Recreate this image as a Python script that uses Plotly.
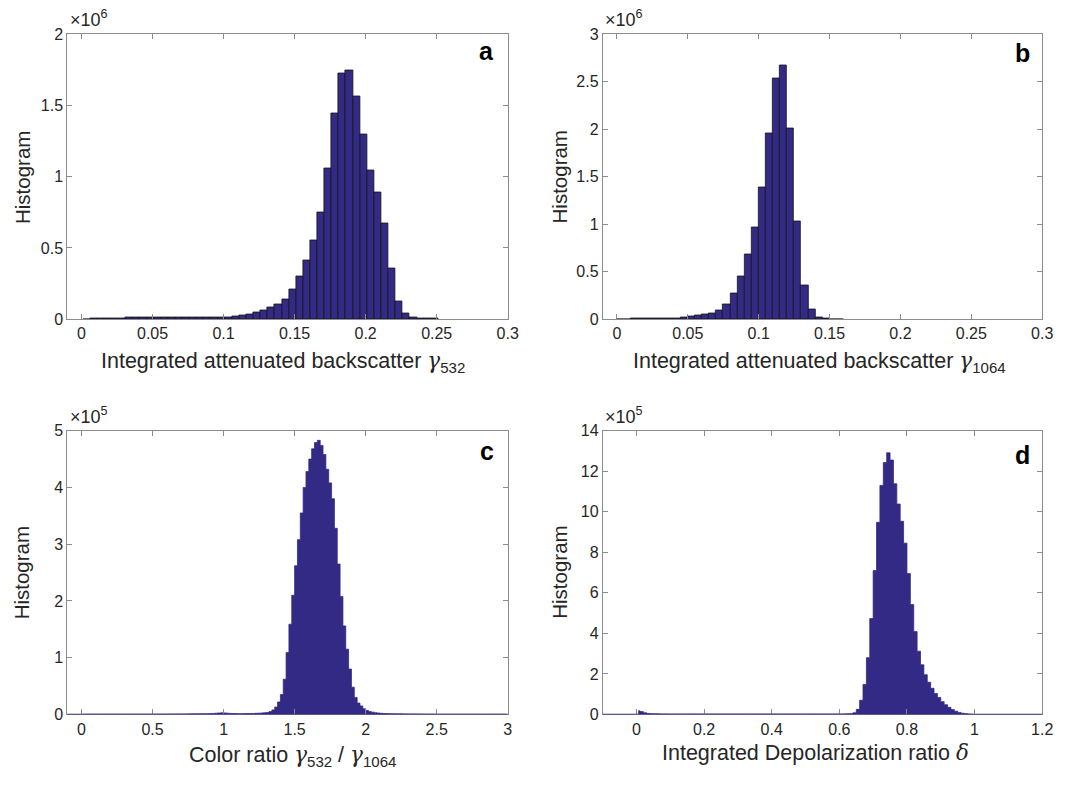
import plotly.graph_objects as go

# ---------------- data ----------------
# Panel a: integrated attenuated backscatter gamma_532, counts in units of 1e6
a_bin_start = 0.001
a_bin_width = 0.005
a_counts_1e6 = [0.001, 0.002, 0.002, 0.003, 0.005, 0.007, 0.009, 0.010, 0.011, 0.012,
                0.013, 0.013, 0.013, 0.012, 0.012, 0.011, 0.011, 0.011, 0.012, 0.013,
                0.015, 0.020, 0.025, 0.034, 0.044, 0.060, 0.080, 0.102, 0.140, 0.206,
                0.300, 0.411, 0.553, 0.750, 1.056, 1.446, 1.726, 1.750, 1.568, 1.300,
                1.043, 0.890, 0.674, 0.354, 0.123, 0.037, 0.012, 0.005, 0.003, 0.002]

# Panel b: integrated attenuated backscatter gamma_1064, counts in units of 1e6
b_bin_start = 0.0
b_bin_width = 0.005
b_counts_1e6 = [0.002, 0.002, 0.003, 0.003, 0.004, 0.005, 0.007, 0.009, 0.012, 0.020,
                0.027, 0.038, 0.045, 0.062, 0.092, 0.154, 0.267, 0.452, 0.685, 0.969,
                1.387, 1.959, 2.541, 2.678, 2.014, 1.027, 0.360, 0.103, 0.017, 0.004,
                0.002, 0.001]

# Panel c: colour ratio gamma_532 / gamma_1064, counts in units of 1e5
c_bin_start = 0.0
c_bin_width = 0.02
c_counts_1e5 = [0.004, 0.004, 0.004, 0.004, 0.004, 0.004, 0.004, 0.004, 0.004, 0.004,
                0.004, 0.004, 0.004, 0.004, 0.004, 0.004, 0.004, 0.004, 0.004, 0.004,
                0.004, 0.004, 0.004, 0.004, 0.004, 0.005, 0.005, 0.006, 0.006, 0.006,
                0.007, 0.007, 0.007, 0.008, 0.008, 0.008, 0.009, 0.009, 0.010, 0.010,
                0.011, 0.011, 0.012, 0.012, 0.013, 0.015, 0.018, 0.022, 0.026, 0.028,
                0.026, 0.022, 0.018, 0.016, 0.015, 0.014, 0.014, 0.015, 0.016, 0.017,
                0.018, 0.020, 0.022, 0.025, 0.030, 0.035, 0.050, 0.080, 0.130, 0.220,
                0.350, 0.620, 1.090, 1.590, 2.100, 2.620, 3.080, 3.550, 4.000, 4.280,
                4.500, 4.680, 4.790, 4.830, 4.740, 4.580, 4.320, 4.080, 3.800, 3.280,
                2.650, 2.080, 1.560, 1.150, 0.800, 0.480, 0.300, 0.200, 0.150, 0.100,
                0.070, 0.050, 0.040, 0.030, 0.025, 0.020, 0.017, 0.015, 0.013, 0.012,
                0.011, 0.010, 0.010, 0.009, 0.009, 0.008, 0.008, 0.007, 0.007, 0.006,
                0.006, 0.005, 0.005, 0.005, 0.004, 0.003, 0.003, 0.003, 0.003, 0.003,
                0.003, 0.003, 0.003, 0.003, 0.003, 0.003, 0.003, 0.003, 0.003, 0.003,
                0.003, 0.003, 0.003, 0.003, 0.003, 0.003, 0.003, 0.003, 0.003, 0.003]

# Panel d: integrated depolarization ratio delta, counts in units of 1e5
d_bin_start = 0.0
d_bin_width = 0.01
d_counts_1e5 = [0.18, 0.14, 0.08, 0.05, 0.04, 0.03, 0.03, 0.025, 0.025, 0.02,
                0.02, 0.02, 0.02, 0.02, 0.02, 0.02, 0.02, 0.02, 0.02, 0.02,
                0.02, 0.02, 0.02, 0.02, 0.02, 0.02, 0.02, 0.02, 0.02, 0.02,
                0.02, 0.02, 0.02, 0.02, 0.02, 0.02, 0.02, 0.02, 0.02, 0.02,
                0.02, 0.02, 0.02, 0.02, 0.02, 0.02, 0.02, 0.02, 0.02, 0.02,
                0.02, 0.02, 0.02, 0.02, 0.02, 0.02, 0.02, 0.02, 0.02, 0.02,
                0.02, 0.025, 0.03, 0.04, 0.08, 0.25, 0.70, 1.48, 2.80, 4.73,
                7.10, 9.48, 11.30, 12.43, 12.91, 12.55, 11.38, 10.38, 9.53, 8.45,
                6.95, 5.42, 4.09, 3.12, 2.45, 1.96, 1.59, 1.29, 1.03, 0.84,
                0.63, 0.48, 0.35, 0.24, 0.16, 0.10, 0.06, 0.04, 0.02, 0.01]

# axis ticks
ab_xticks = [0, 0.05, 0.1, 0.15, 0.2, 0.25, 0.3]
ab_xticklabels = ["0", "0.05", "0.1", "0.15", "0.2", "0.25", "0.3"]
a_yticks = [0, 0.5, 1, 1.5, 2]
a_yticklabels = ["0", "0.5", "1", "1.5", "2"]
b_yticks = [0, 0.5, 1, 1.5, 2, 2.5, 3]
b_yticklabels = ["0", "0.5", "1", "1.5", "2", "2.5", "3"]
c_xticks = [0, 0.5, 1, 1.5, 2, 2.5, 3]
c_xticklabels = ["0", "0.5", "1", "1.5", "2", "2.5", "3"]
c_yticks = [0, 1, 2, 3, 4, 5]
c_yticklabels = ["0", "1", "2", "3", "4", "5"]
d_xticks = [0, 0.2, 0.4, 0.6, 0.8, 1.0, 1.2]
d_xticklabels = ["0", "0.2", "0.4", "0.6", "0.8", "1", "1.2"]
d_yticks = [0, 2, 4, 6, 8, 10, 12, 14]
d_yticklabels = ["0", "2", "4", "6", "8", "10", "12", "14"]

# ---------------- style ----------------
W, H = 1070, 789
BAR = "#322a85"
EDGE = "#151515"
AXC = "#8c8c8c"
TXT = "#262626"
FONT = "Liberation Sans, Arial, Helvetica, sans-serif"
GREEK = '<span style="font-family:DejaVu Serif"><i>%s</i></span>'


def centers(start, width, n):
    return [start + width * (i + 0.5) for i in range(n)]


def px(x):
    return x / W


def py(y):
    return 1 - y / H


fig = go.Figure()

# a, b: discrete bars with dark edges
for start, width, counts, xa, ya in [
        (a_bin_start, a_bin_width, a_counts_1e6, "x", "y"),
        (b_bin_start, b_bin_width, b_counts_1e6, "x2", "y2")]:
    fig.add_trace(go.Bar(
        x=centers(start, width, len(counts)), y=counts, width=width,
        marker=dict(color=BAR, line=dict(color=EDGE, width=0.8)),
        xaxis=xa, yaxis=ya, showlegend=False, hoverinfo="skip"))

# c, d: dense histograms drawn as solid step areas
for start, width, counts, xa, ya in [
        (c_bin_start, c_bin_width, c_counts_1e5, "x3", "y3"),
        (d_bin_start, d_bin_width, d_counts_1e5, "x4", "y4")]:
    fig.add_trace(go.Scatter(
        x=centers(start, width, len(counts)), y=counts, mode="lines",
        line=dict(shape="hvh", color=BAR, width=0.8), fill="tozeroy",
        fillcolor=BAR, xaxis=xa, yaxis=ya, showlegend=False, hoverinfo="skip"))

xl = [px(68), px(513)]
xr = [px(609), px(1053)]
yt = [py(318), py(27)]
yb = [py(722), py(432)]

common = dict(showline=True, linecolor=AXC, linewidth=1, mirror="ticks",
              ticks="inside", ticklen=5, tickcolor=AXC, tickwidth=1,
              showgrid=False, zeroline=False,
              tickfont=dict(family=FONT, size=16, color=TXT))

fig.update_layout(
    width=W, height=H, margin=dict(l=0, r=0, t=0, b=0),
    paper_bgcolor="white", plot_bgcolor="white", bargap=0,
    font=dict(family=FONT, color=TXT),
    xaxis=dict(domain=xl, anchor="y", range=[-0.01, 0.3], tickvals=ab_xticks,
               ticktext=ab_xticklabels, **common),
    yaxis=dict(domain=yt, anchor="x", range=[0, 2], tickvals=a_yticks,
               ticktext=a_yticklabels, **common),
    xaxis2=dict(domain=xr, anchor="y2", range=[-0.01, 0.3], tickvals=ab_xticks,
                ticktext=ab_xticklabels, **common),
    yaxis2=dict(domain=yt, anchor="x2", range=[0, 3], tickvals=b_yticks,
                ticktext=b_yticklabels, **common),
    xaxis3=dict(domain=xl, anchor="y3", range=[-0.1, 3], tickvals=c_xticks,
                ticktext=c_xticklabels, **common),
    yaxis3=dict(domain=yb, anchor="x3", range=[0, 5], tickvals=c_yticks,
                ticktext=c_yticklabels, **common),
    xaxis4=dict(domain=xr, anchor="y4", range=[-0.1, 1.2], tickvals=d_xticks,
                ticktext=d_xticklabels, **common),
    yaxis4=dict(domain=yb, anchor="x4", range=[0, 14], tickvals=d_yticks,
                ticktext=d_yticklabels, **common),
)

# bar baselines (MATLAB-style) for c and d
for xa, ya in [("x3", "y3"), ("x4", "y4")]:
    fig.add_shape(type="line", xref=xa + " domain", yref=ya, x0=0, x1=1, y0=0, y1=0,
                  line=dict(color=BAR, width=1.5))

ann = []
# exponent labels
for x, y, t in [(69, 25, "×10<sup>6</sup>"), (609, 25, "×10<sup>6</sup>"),
                (69, 430, "×10<sup>5</sup>"), (609, 430, "×10<sup>5</sup>")]:
    ann.append(dict(x=px(x), y=py(y), xref="paper", yref="paper", text=t,
                    showarrow=False, xanchor="left", yanchor="bottom",
                    font=dict(family=FONT, size=18, color=TXT)))
# panel letters
for x, y, t in [(492, 44, "a"), (1033, 46, "b"), (492, 453, "c"), (1033, 457, "d")]:
    ann.append(dict(x=px(x), y=py(y), xref="paper", yref="paper", text="<b>%s</b>" % t,
                    showarrow=False, xanchor="center", yanchor="middle",
                    font=dict(family=FONT, size=25, color="black")))
# y titles
for x, y in [(22, 173), (565, 173), (22, 577), (565, 577)]:
    ann.append(dict(x=px(x), y=py(y), xref="paper", yref="paper", text="Histogram",
                    showarrow=False, textangle=-90, xanchor="center", yanchor="middle",
                    font=dict(family=FONT, size=20.5, color=TXT)))
# x titles
g = GREEK % "γ"
for x, y, t in [(286, 362, "Integrated attenuated backscatter " + g + "<sub>532</sub>"),
                (828, 362, "Integrated attenuated backscatter " + g + "<sub>1064</sub>"),
                (296, 764, "Color ratio " + g + "<sub>532</sub> / " + g + "<sub>1064</sub>"),
                (824, 761, "Integrated Depolarization ratio " + GREEK % "δ")]:
    ann.append(dict(x=px(x), y=py(y), xref="paper", yref="paper", text=t,
                    showarrow=False, xanchor="center", yanchor="middle",
                    font=dict(family=FONT, size=21.5, color=TXT)))
fig.update_layout(annotations=ann)

fig.write_html("out.html", config={"displayModeBar": False},
               post_script="document.body.style.margin='0';document.body.style.overflow='hidden';")
